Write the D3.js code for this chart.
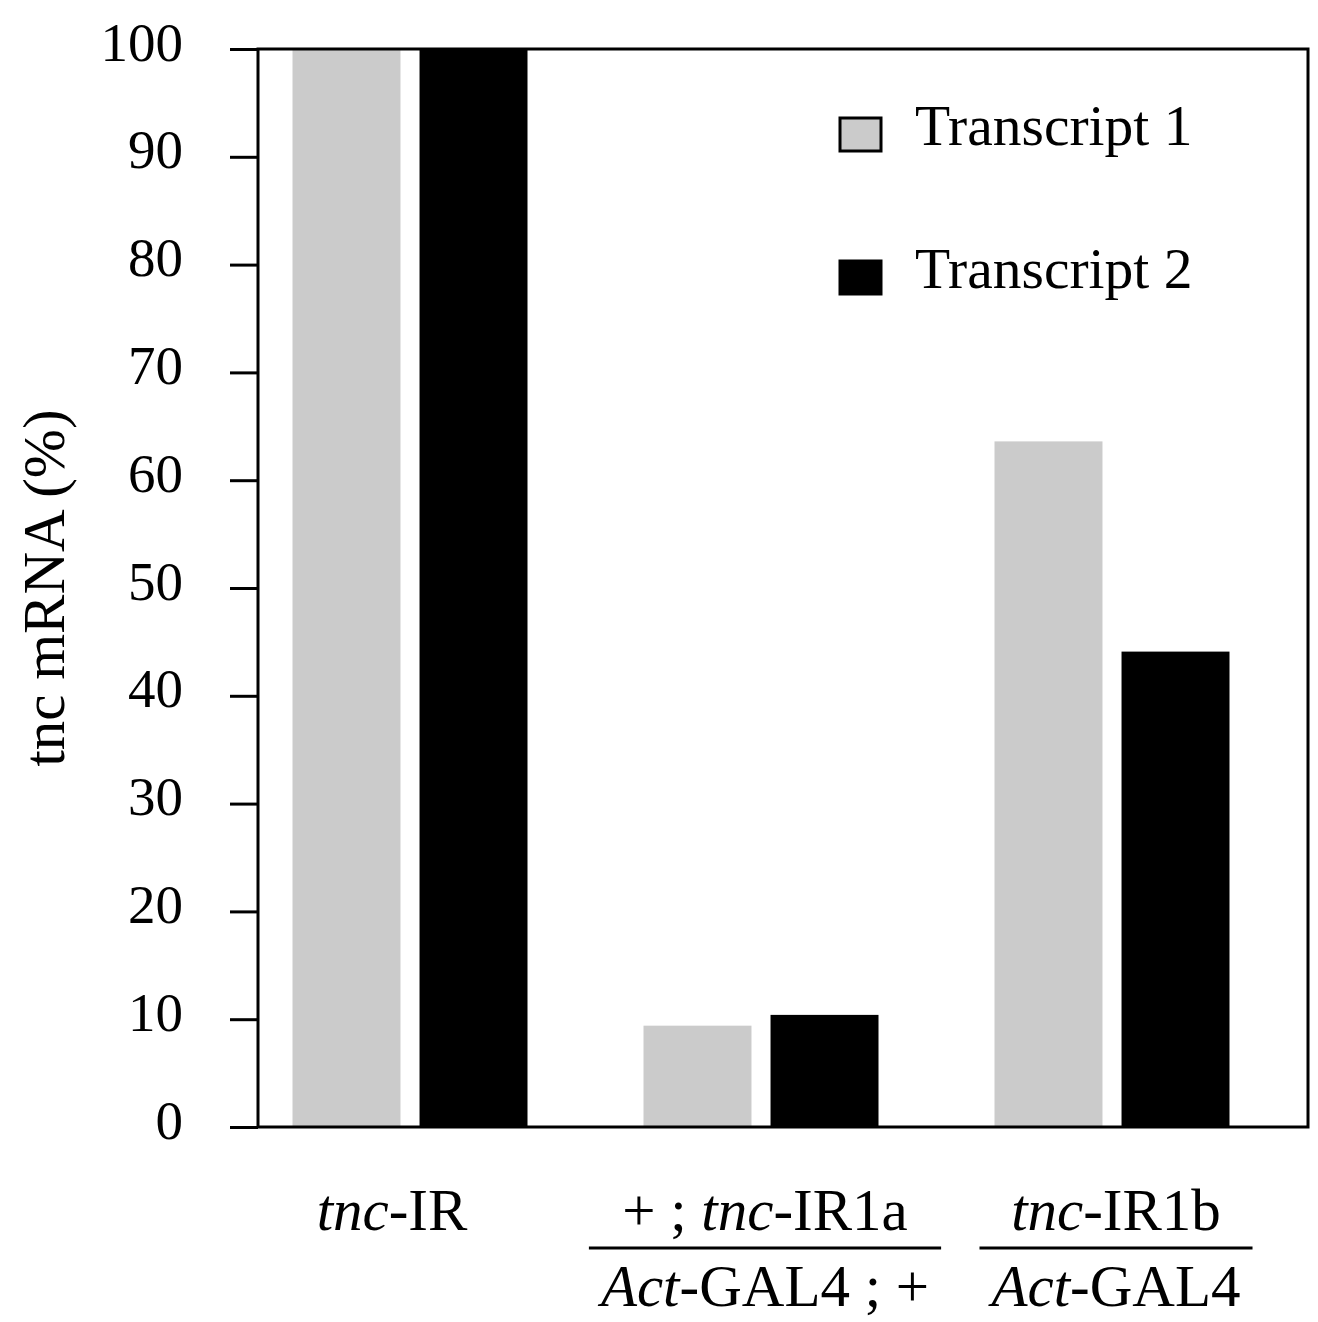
<!DOCTYPE html>
<html>
<head>
<meta charset="utf-8">
<script src="https://cdn.jsdelivr.net/npm/d3@7"></script>
<style>
  body { margin: 0; background: #fff; }
  text { font-family: "Liberation Serif", "DejaVu Serif", serif; fill: #000; }
</style>
</head>
<body>
<svg class="svg"></svg>
<script>
let categories = ["tnc-IR", "tnc-IR1a", "tnc-IR1b"]
let seriesNames = ["Transcript 1", "Transcript 2"]
let transcript1 = [100, 9.4, 63.6]
let transcript2 = [100, 10.4, 44.1]
let yTicks = [0, 10, 20, 30, 40, 50, 60, 70, 80, 90, 100]
let yLabel = "tnc mRNA (%)"
// label pieces: [text, italic]
let topLabels = [
    [["tnc", true], ["-IR", false]],
    [["+ ; ", false], ["tnc", true], ["-IR1a", false]],
    [["tnc", true], ["-IR1b", false]]
]
let bottomLabels = [
    null,
    [["Act", true], ["-GAL4 ; +", false]],
    [["Act", true], ["-GAL4", false]]
]
let colors = ["#cbcbcb", "#000000"]

let width = 1318, height = 1322
let plotLeft = 258, plotTop = 49, plotRight = 1308, plotBottom = 1127
let labelShift = [-18, 4, 4]

let svg = d3.select(".svg").attr("width", width).attr("height", height)

let yScale = d3.scaleLinear().domain([0, 100]).range([plotBottom, plotTop])
let xScale = d3.scalePoint().domain(categories).range([plotLeft + 152, plotLeft + 854])
let subScale = d3.scaleBand().domain(seriesNames).range([-117.5, 117.5]).paddingInner(0.15)

let rows = categories.map((c, i) => ({cat: c, values: [transcript1[i], transcript2[i]]}))

// bars
let groups = svg.selectAll(".group")
    .data(rows)
    .enter()
    .append("g")
    .attr("class", "group")
    .attr("transform", (d) => "translate(" + xScale(d.cat) + ",0)")

groups.selectAll("rect")
    .data((d) => d.values.map((v, i) => ({name: seriesNames[i], value: v, i: i})))
    .enter()
    .append("rect")
    .attr("x", (d) => subScale(d.name))
    .attr("y", (d) => yScale(d.value))
    .attr("width", subScale.bandwidth())
    .attr("height", (d) => plotBottom - yScale(d.value))
    .attr("fill", (d) => colors[d.i])

// frame
svg.append("rect")
    .attr("x", plotLeft).attr("y", plotTop)
    .attr("width", plotRight - plotLeft).attr("height", plotBottom - plotTop)
    .attr("fill", "none")
    .attr("stroke", "#000")
    .attr("stroke-width", 3)

// y axis
let yAxis = d3.axisLeft(yScale)
    .tickValues(yTicks)
    .tickSize(28)
    .tickPadding(47)
    .tickFormat((d) => d)
let yg = svg.append("g").attr("transform", "translate(" + plotLeft + ",0)").call(yAxis)
yg.select(".domain").remove()
yg.selectAll(".tick line").attr("stroke", "#000").attr("stroke-width", 3)
yg.selectAll(".tick text")
    .attr("font-family", "Liberation Serif")
    .attr("font-size", 55)
    .attr("fill", "#000")
    .attr("dy", "0.2em")

svg.append("text")
    .attr("transform", "translate(64," + ((plotTop + plotBottom) / 2) + ") rotate(-90)")
    .attr("text-anchor", "middle")
    .attr("font-size", 59)
    .text(yLabel)

// x labels
let addLabel = (parts, x, y) => {
    let t = svg.append("text")
        .attr("x", x).attr("y", y)
        .attr("text-anchor", "middle")
        .attr("font-size", 59)
    parts.forEach((p) => {
        t.append("tspan")
            .attr("font-style", p[1] ? "italic" : "normal")
            .text(p[0])
    })
    return t
}

categories.forEach((c, i) => {
    let cx = xScale(c) + labelShift[i]
    let t1 = addLabel(topLabels[i], cx, 1230)
    if (bottomLabels[i]) {
        let t2 = addLabel(bottomLabels[i], cx, 1306)
        let w = Math.max(t1.node().getComputedTextLength(), t2.node().getComputedTextLength()) + 24
        svg.append("line")
            .attr("x1", cx - w / 2).attr("x2", cx + w / 2)
            .attr("y1", 1248).attr("y2", 1248)
            .attr("stroke", "#000")
            .attr("stroke-width", 3)
    }
})

// legend
let legend = svg.selectAll(".legend")
    .data(seriesNames)
    .enter()
    .append("g")
    .attr("class", "legend")
    .attr("transform", (d, i) => "translate(840," + (118 + i * 143) + ")")

legend.append("rect")
    .attr("width", 41)
    .attr("height", 33)
    .attr("fill", (d, i) => colors[i])
    .attr("stroke", "#000")
    .attr("stroke-width", 3)

legend.append("text")
    .attr("x", 75)
    .attr("y", 27)
    .attr("font-size", 57.5)
    .text((d) => d)
</script>
</body>
</html>
